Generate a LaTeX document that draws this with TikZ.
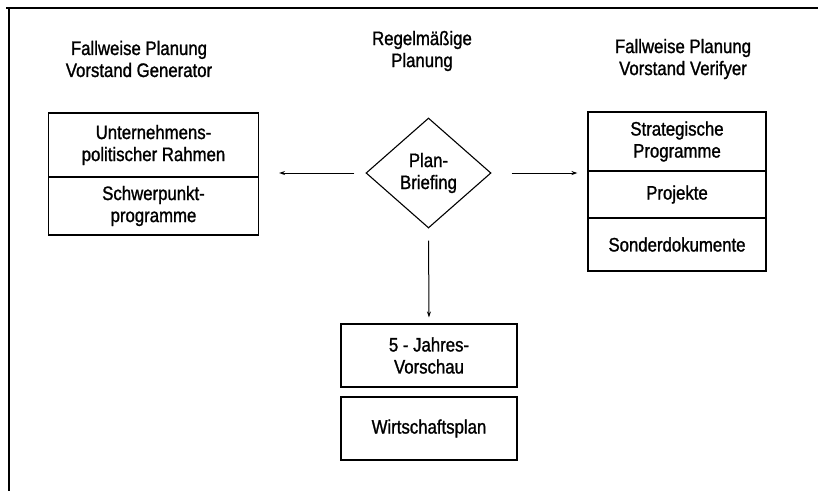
\documentclass[tikz,border=0pt]{standalone}
\usepackage{fontspec}
\setmainfont{Liberation Sans}[FakeStretch=0.86,FakeBold=1.2]
\usetikzlibrary{shapes.geometric,arrows.meta}
\begin{document}
\begin{tikzpicture}[x=1pt,y=-1pt,
  every node/.style={font=\fontsize{19.5}{22}\selectfont, align=center, inner sep=0pt},
  cell/.style={draw, line width=1.1pt, minimum width=#1},
  head/.style={},
  conn/.style={line width=1pt, -{Stealth[length=6pt,width=4pt]}},
  frame/.style={line width=2pt}]
\useasboundingbox (0,0) rectangle (818,491);
% frame
\coordinate (f1) at (6,8);
\coordinate (f2) at (818,8);
\coordinate (f3) at (9,8);
\coordinate (f4) at (9,491);
\draw[frame] (f1) -- (f2);
\draw[frame] (f3) -- (f4);
% headers
\node[head] (h1) at (139,59) {Fallweise Planung\\Vorstand Generator};
\node[head] (h2) at (422,51) {Regelmäßige\\Planung};
\node[head] (h3) at (683,59) {Fallweise Planung\\Vorstand Verifyer};
% left box
\node[cell=210pt, minimum height=64pt] (l1) at (153.5,145) {Unternehmens-\\politischer Rahmen};
\node[cell=210pt, minimum height=58pt] (l2) at (153.5,206) {Schwerpunkt-\\programme};
% diamond
\node[diamond, draw, line width=1.1pt, minimum width=125pt, minimum height=110pt] (d) at (428.5,173) {Plan-\\Briefing};
% right box
\node[cell=178pt, minimum height=59pt] (r1) at (677,141.5) {Strategische\\Programme};
\node[cell=178pt, minimum height=47pt] (r2) at (677,194.5) {Projekte};
\node[cell=178pt, minimum height=53pt] (r3) at (677,244.5) {Sonderdokumente};
% bottom boxes
\node[cell=176pt, minimum height=63pt] (b1) at (429,355.5) {5 - Jahres-\\Vorschau};
\node[cell=176pt, minimum height=63pt] (b2) at (429,428.5) {Wirtschaftsplan};
% connectors
\draw[conn, shorten <=11pt, shorten >=20pt] (d.west) -- (d.west -| l1.east);
\draw[conn, shorten <=20pt, shorten >=10pt] (d.east) -- (d.east -| r1.west);
\draw[conn, shorten <=12pt, shorten >=6pt] (d.south) -- (b1.north);
\end{tikzpicture}
\end{document}
